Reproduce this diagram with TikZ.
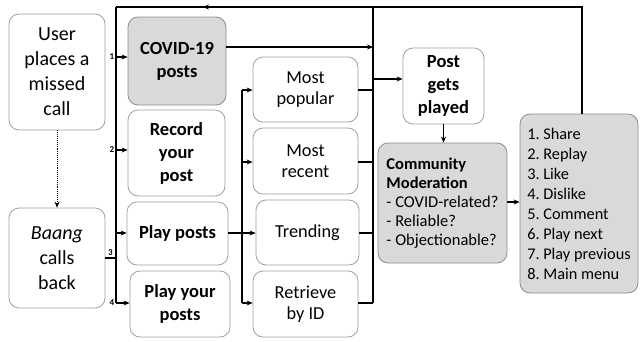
\documentclass[tikz,border=0pt]{standalone}
\usepackage{fontspec}
\setmainfont{Carlito}
\usetikzlibrary{arrows.meta}
\definecolor{boxline}{HTML}{A0A0A0}
\definecolor{gboxline}{HTML}{8C8C8C}
\definecolor{boxfill}{HTML}{D9D9D9}
\frenchspacing
\begin{document}
\begin{tikzpicture}[x=1pt,y=-1pt,
  box/.style={draw=boxline, line width=0.8pt, rounded corners=10pt, align=center, inner sep=2pt, fill=white},
  gbox/.style={box, draw=gboxline, fill=boxfill},
  big/.style={font=\fontsize{20}{25}\selectfont},
  bold/.style={font=\bfseries\fontsize{18.5}{23}\selectfont},
  mid/.style={font=\fontsize{18.3}{21.5}\selectfont},
  ln/.style={line width=1.1pt},
  conn/.style={line width=1.1pt, -{Stealth[length=6pt,width=5pt]}},
  num/.style={font=\bfseries\fontsize{9}{10}\selectfont, inner sep=0pt}
]
\useasboundingbox (0,0) rectangle (640,341);

% left column
\node[box, big, minimum width=96pt, minimum height=116pt] (user) at (57,72) {User\\places a\\missed\\call};
\node[box, big, minimum width=96pt, minimum height=100pt] (baang) at (57,258) {\textit{Baang}\\calls\\back};

% menu column
\node[gbox, bold, minimum width=98pt, minimum height=88pt] (covid) at (177,61) {COVID-19\\posts};
\node[box, bold, minimum width=97pt, minimum height=86pt] (record) at (176.5,153) {Record\\your\\post};
\node[box, bold, minimum width=101pt, minimum height=63pt] (play) at (177.5,233.5) {Play posts};
\node[box, bold, minimum width=100pt, minimum height=66pt] (playyour) at (180,304) {Play your\\posts};

% sort column
\node[box, mid, minimum width=105pt, minimum height=65pt] (popular) at (305.5,89.5) {Most\\popular};
\node[box, mid, minimum width=105pt, minimum height=66pt] (recent) at (305.5,161) {Most\\recent};
\node[box, mid, minimum width=103pt, minimum height=65pt] (trending) at (307.5,232.5) {Trending};
\node[box, mid, minimum width=105pt, minimum height=66pt] (retrieve) at (305.5,304) {Retrieve\\by ID};

% right part
\node[box, bold, minimum width=81pt, minimum height=76pt] (post) at (443.5,86) {Post\\gets\\played};
\node[gbox, font=\fontsize{16.5}{19}\selectfont, align=left, minimum width=129pt, minimum height=120pt, inner sep=2pt] (comm) at (442.5,203)
  {\textbf{Community}\\\textbf{Moderation}\\- COVID-related?\\- Reliable?\\- Objectionable?};
\node[gbox, font=\fontsize{16.3}{20}\selectfont, align=left, minimum width=118pt, minimum height=179pt, inner sep=2pt] (list) at (579,203.5)
  {1. Share\\2. Replay\\3. Like\\4. Dislike\\5. Comment\\6. Play next\\7. Play previous\\8. Main menu};

% coordinates
\coordinate (busT) at (116,7);
\coordinate (busB) at (116,303);
\coordinate (b1) at (116,57);
\coordinate (b2) at (116,150);
\coordinate (b3) at (116,233);
\coordinate (bj) at (116,258);
\coordinate (topR) at (582,7);
\coordinate (tarrow) at (203,7);
\coordinate (rT) at (373,7);
\coordinate (rB) at (373,303);
\coordinate (rC) at (373,47);
\coordinate (rP) at (373,79);
\coordinate (iT) at (242,90);
\coordinate (iR) at (242,162);
\coordinate (iP) at (242,233);
\coordinate (iB) at (242,303);

% dotted
\draw[line width=0.9pt, densely dotted, -{Stealth[length=6pt,width=5pt]}] (user.south) -- (baang.north);

% left bus
\draw[ln] (busT) -- (busB);
\draw[ln] (baang.east |- bj) -- (bj);
\draw[conn] (b1) -- (b1 -| covid.west);
\draw[conn] (b2) -- (b2 -| record.west);
\draw[conn] (b3) -- (b3 -| play.west);
\draw[conn] (busB) -- (busB -| playyour.west);
\node[num, anchor=east] at ([xshift=-1.5pt]b1) {1};
\node[num, anchor=east] at ([xshift=-1.5pt]b2) {2};
\node[num, anchor=south] at (110.5,255.5) {3};
\node[num, anchor=east] at ([xshift=-1.5pt]busB) {4};

% top return line
\draw[ln] (list.north -| topR) -- (topR) -- (busT);
\draw[conn] (topR) -- (tarrow);

% inner bus
\draw[ln] (iT) -- (iB);
\draw[conn] (iT) -- (iT -| popular.west);
\draw[conn] (iR) -- (iR -| recent.west);
\draw[conn] (play.east |- iP) -- (iP -| trending.west);
\draw[conn] (iB) -- (iB -| retrieve.west);

% right bus
\draw[ln] (rT) -- (rB);
\draw[conn] (covid.east |- rC) -- (rC);
\draw[ln] (popular.east |- iT) -- (iT -| rT);
\draw[ln] (recent.east |- iR) -- (iR -| rT);
\draw[ln] (trending.east |- iP) -- (iP -| rT);
\draw[ln] (retrieve.east |- iB) -- (rB);
\draw[conn] (rP) -- (rP -| post.west);

% post -> community -> list
\draw[conn] (post.south) -- (comm.north -| post.south);
\draw[conn] (comm.east |- 0,202) -- (list.west |- 0,202);
\end{tikzpicture}
\end{document}
